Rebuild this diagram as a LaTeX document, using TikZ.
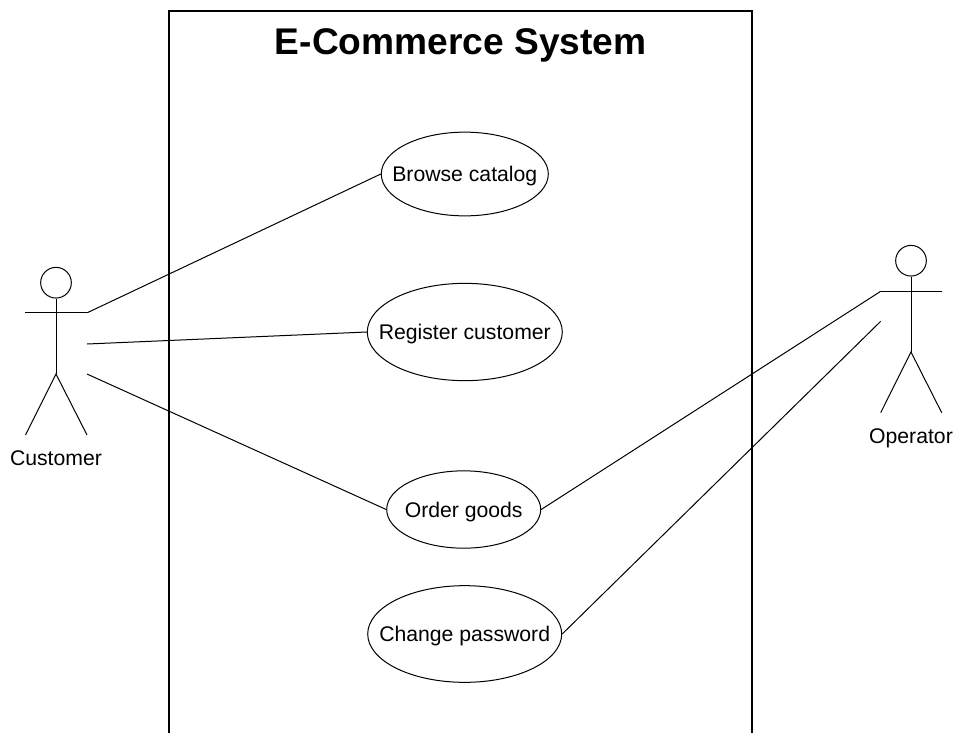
\documentclass[tikz,border=0pt]{standalone}
\usepackage{fontspec}
\setmainfont{Liberation Sans}
\usetikzlibrary{shapes.geometric}

\tikzset{
	usecase/.style={draw,ellipse,inner sep=-30pt,text height=14pt,text depth=2.6pt,font=\fontsize{15.9}{18}\selectfont},
	actorhead/.style={draw,circle,inner sep=0pt,minimum size=23pt},
	actorname/.style={inner sep=0.75pt,text height=14pt,text depth=2.6pt,font=\fontsize{15.9}{18}\selectfont},
	line/.style={line width=0.75pt}
}

\begin{document}
\begin{tikzpicture}[x=0.75pt,y=0.75pt,yscale=-1,every node/.style={line width=0.75pt}]
	\useasboundingbox (0,0) rectangle (953,733);
	% system box, open at the bottom
	\coordinate (boxbl) at (169,733);
	\coordinate (boxtl) at (169,11);
	\coordinate (boxtr) at (752,11);
	\coordinate (boxbr) at (752,733);
	\draw [line width=0.9pt] (boxbl) -- (boxtl) -- (boxtr) -- (boxbr);
	\node (title) [inner sep=0pt,font=\fontsize{27.85}{32}\bfseries\selectfont] at (460.7,45.5) {E-Commerce System};
	% use cases
	\node (browse) [usecase,minimum width=125.25pt,minimum height=62.8pt] at (464.8,174) {Browse catalog};
	\node (register) [usecase,minimum width=146.25pt,minimum height=73pt] at (464.8,332) {Register customer};
	\node (order) [usecase,minimum width=115.5pt,minimum height=58pt] at (463.7,509.5) {Order goods};
	\node (password) [usecase,minimum width=145.5pt,minimum height=72.5pt] at (464.7,634) {Change password};
	% customer
	\node (chead) [actorhead] at (56,282.7) {};
	\coordinate (cleft) at (25,312.7);
	\coordinate (cright) at (87.3,312.7);
	\coordinate (chip) at (56,374);
	\coordinate (cfootl) at (25.5,435);
	\coordinate (cfootr) at (87,435);
	\coordinate (cmid) at (87,344);
	\coordinate (clow) at (87,374);
	\draw [line] (chead) -- (chip);
	\draw [line] (cleft) -- (cright);
	\draw [line] (cfootl) -- (chip) -- (cfootr);
	\node (customer) [actorname] at (56,457.5) {Customer};
	% operator
	\node (ohead) [actorhead] at (911,260.7) {};
	\coordinate (oleft) at (880.7,291.3);
	\coordinate (oright) at (941.7,291.3);
	\coordinate (ohip) at (911,352);
	\coordinate (ofootl) at (880.7,412.7);
	\coordinate (ofootr) at (941.7,412.7);
	\coordinate (olow) at (880.7,321.3);
	\draw [line] (ohead) -- (ohip);
	\draw [line] (oleft) -- (oright);
	\draw [line] (ofootl) -- (ohip) -- (ofootr);
	\node (operator) [actorname] at (911,435.5) {Operator};
	% connectors
	\draw [line] (cright) -- (browse.west);
	\draw [line] (cmid) -- (register.west);
	\draw [line] (clow) -- (order.west);
	\draw [line] (oleft) -- (order.east);
	\draw [line] (olow) -- (password.east);
\end{tikzpicture}
\end{document}
